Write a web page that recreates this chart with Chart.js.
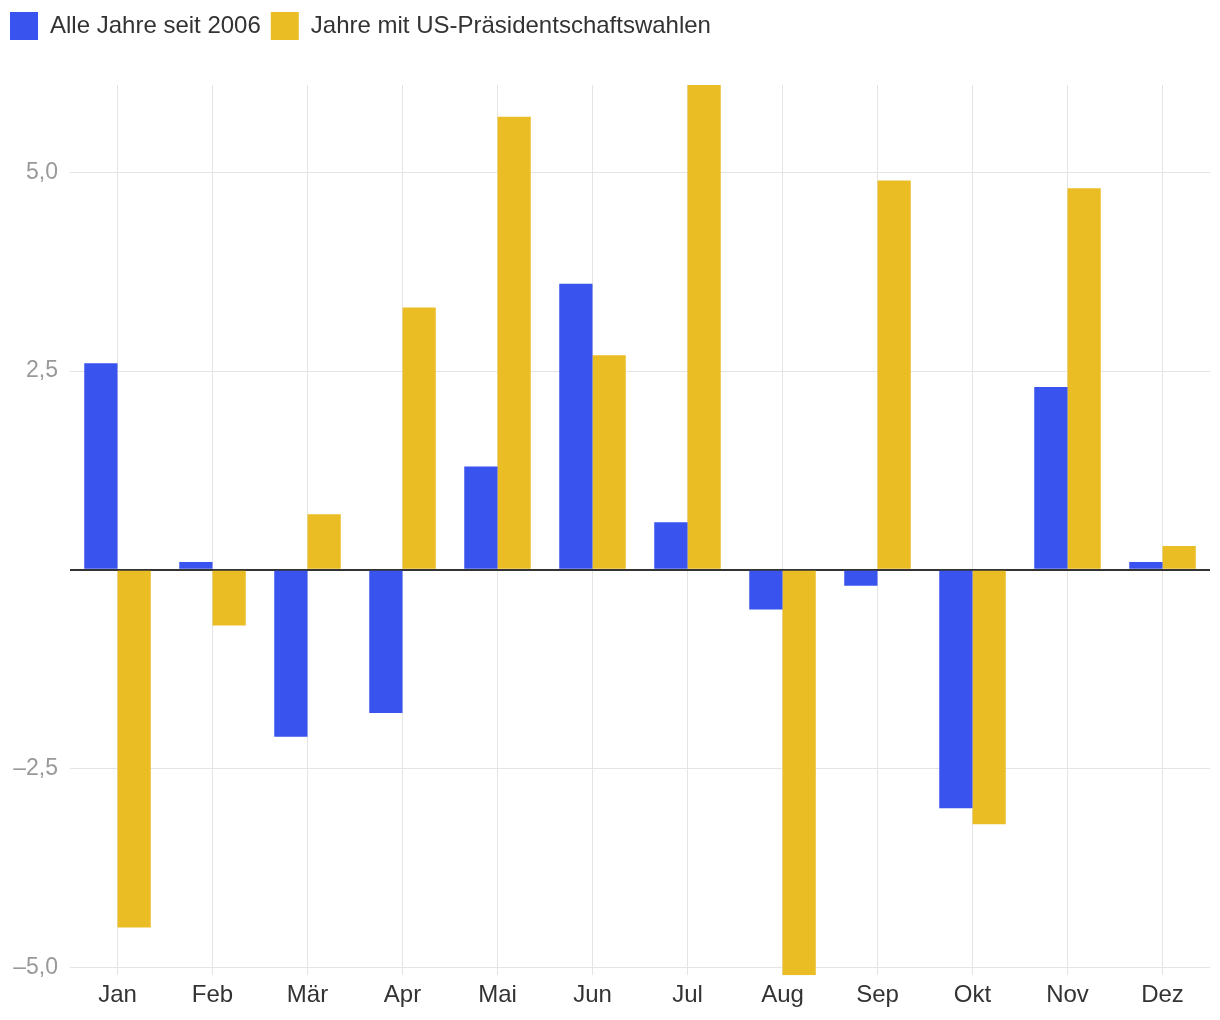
<!DOCTYPE html>
<html lang="de">
<head>
<meta charset="utf-8">
<title>Monatsrenditen</title>
<script src="https://cdn.jsdelivr.net/npm/chart.js@4.4.1/dist/chart.umd.min.js"></script>
<style>
  html, body { margin: 0; padding: 0; background: #fff; }
  #wrap { width: 1220px; height: 1020px; position: relative; }
</style>
</head>
<body>
<div id="wrap"><canvas id="chart"></canvas></div>
<script>
  // ── Data ────────────────────────────────────────────────────────
  const MONTHS = ['Jan', 'Feb', 'Mär', 'Apr', 'Mai', 'Jun', 'Jul', 'Aug', 'Sep', 'Okt', 'Nov', 'Dez'];
  const ALL_YEARS = [2.6, 0.1, -2.1, -1.8, 1.3, 3.6, 0.6, -0.5, -0.2, -3.0, 2.3, 0.1];
  const ELECTION_YEARS = [-4.5, -0.7, 0.7, 3.3, 5.7, 2.7, 6.1, -5.1, 4.9, -3.2, 4.8, 0.3];
  const Y_TICKS = [-5, -2.5, 0, 2.5, 5];

  // ── Style tokens ────────────────────────────────────────────────
  const BLUE = '#3853EE';
  const YELLOW = '#EBBD24';
  const GRID_COLOR = '#E4E4E4';
  const FONT_FAMILY = "'Liberation Sans', Arial, Helvetica, sans-serif";

  const fmt = v => {
    const s = Math.abs(v).toFixed(1).replace('.', ',');
    return v < 0 ? '\u2013' + s : s;
  };

  // push the plot area down below the legend
  const legendGap = {
    id: 'legendGap',
    beforeInit(chart) {
      const fit = chart.legend.fit;
      chart.legend.fit = function () {
        fit.call(this);
        this.height += 35;
      };
    }
  };

  new Chart(document.getElementById('chart'), {
    type: 'bar',
    data: {
      labels: MONTHS,
      datasets: [
        { label: 'Alle Jahre seit 2006', data: ALL_YEARS, backgroundColor: BLUE },
        { label: 'Jahre mit US-Präsidentschaftswahlen', data: ELECTION_YEARS, backgroundColor: YELLOW }
      ]
    },
    options: {
      responsive: true,
      maintainAspectRatio: false,
      animation: false,
      layout: { padding: { left: 0, right: 10, top: 2, bottom: 4 } },
      datasets: {
        bar: { categoryPercentage: 0.7, barPercentage: 1.0 }
      },
      scales: {
        x: {
          grid: { color: GRID_COLOR, offset: false, drawTicks: false },
          border: { display: false },
          ticks: { color: '#333', padding: 6, font: { family: FONT_FAMILY, size: 24 } }
        },
        y: {
          min: -5.1,
          max: 6.1,
          afterBuildTicks(scale) {
            scale.ticks = Y_TICKS.map(v => ({ value: v }));
          },
          afterFit(scale) { scale.width = 70; },
          grid: {
            drawTicks: false,
            color: ctx => (ctx.tick && ctx.tick.value === 0 ? '#333' : GRID_COLOR),
            lineWidth: ctx => (ctx.tick && ctx.tick.value === 0 ? 2 : 1)
          },
          border: { display: false },
          ticks: {
            color: '#999',
            padding: 12,
            font: { family: FONT_FAMILY, size: 23 },
            callback: v => (v === 0 ? '' : fmt(v))
          }
        }
      },
      plugins: {
        legend: {
          position: 'top',
          align: 'start',
          labels: {
            boxWidth: 28,
            boxHeight: 28,
            padding: 10,
            color: '#333',
            font: { family: FONT_FAMILY, size: 24 }
          }
        },
        tooltip: { enabled: false }
      }
    },
    plugins: [legendGap]
  });
</script>
</body>
</html>
